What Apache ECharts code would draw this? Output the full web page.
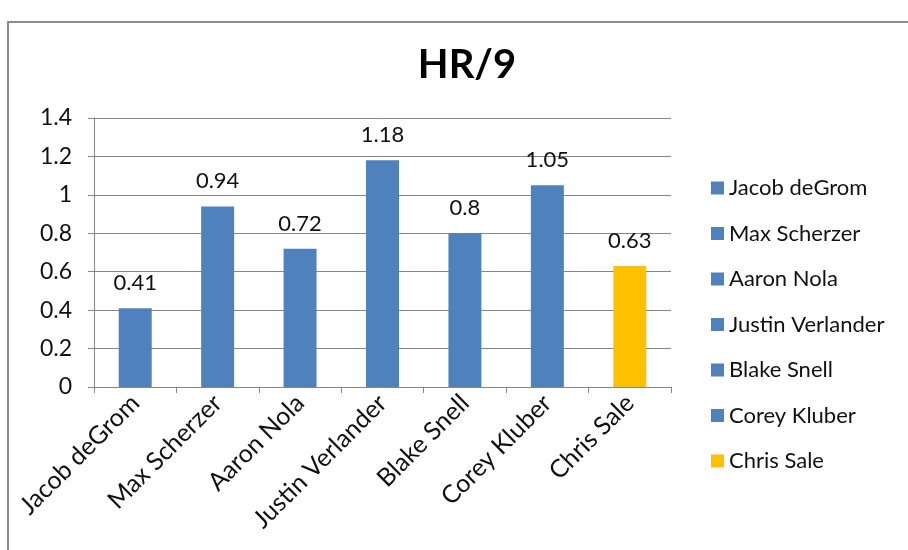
<!DOCTYPE html>
<html>
<head>
<meta charset="utf-8">
<script src="https://cdn.jsdelivr.net/npm/echarts@6/dist/echarts.min.js"></script>
<style>
  html, body { margin: 0; padding: 0; background: #fff; }
  #chart { width: 908px; height: 550px; }
</style>
</head>
<body>
<div id="chart"></div>
<script>
// Home runs allowed per nine innings, by pitcher
const pitchers = ['Jacob deGrom', 'Max Scherzer', 'Aaron Nola', 'Justin Verlander', 'Blake Snell', 'Corey Kluber', 'Chris Sale'];
const hr9 = [0.41, 0.94, 0.72, 1.18, 0.8, 1.05, 0.63];
const barColors = ['#4F81BD', '#4F81BD', '#4F81BD', '#4F81BD', '#4F81BD', '#4F81BD', '#FFC000'];
const yTicks = [0, 0.2, 0.4, 0.6, 0.8, 1, 1.2, 1.4];

const FONT = 'Lato';
const chart = echarts.init(document.getElementById('chart'), null, { renderer: 'canvas' });

// One series per pitcher so each gets its own legend entry; stacking keeps bars centred.
const series = pitchers.map((name, i) => ({
  name: name,
  type: 'bar',
  stack: 'all',
  barWidth: '40%',
  itemStyle: { color: barColors[i] },
  label: {
    show: true,
    position: 'top',
    distance: 14,
    color: '#111',
    fontFamily: FONT,
    fontSize: 22,
    formatter: p => String(p.value)
  },
  data: pitchers.map((_, j) => (j === i ? hr9[i] : '-'))
}));

chart.setOption({
  animation: false,
  backgroundColor: '#fff',
  title: {
    text: 'HR/9',
    left: 462,
    top: 40,
    textAlign: 'center',
    textStyle: { fontFamily: FONT, fontSize: 40, fontWeight: 'bold', color: '#000' }
  },
  graphic: [{
    type: 'rect',
    shape: { x: 8, y: 22, width: 1000, height: 600 },
    style: { fill: 'none', stroke: '#8c8c8c', lineWidth: 2 },
    z: -1
  }],
  legend: {
    orient: 'vertical',
    left: 706,
    top: 172,
    itemWidth: 13,
    itemHeight: 13,
    itemGap: 23.5,
    icon: 'rect',
    textStyle: { fontFamily: FONT, fontSize: 22, color: '#111', padding: [0, 0, 0, 0] },
    data: pitchers
  },
  grid: { left: 94, right: 237, top: 118, bottom: 163 },
  xAxis: {
    type: 'category',
    data: pitchers,
    axisLine: { lineStyle: { color: '#868686', width: 1 } },
    axisTick: { show: true, length: 6, lineStyle: { color: '#868686' } },
    axisLabel: {
      rotate: 45,
      interval: 0,
      margin: 12,
      fontFamily: FONT,
      fontSize: 25,
      color: '#111'
    }
  },
  yAxis: {
    type: 'value',
    min: yTicks[0],
    max: yTicks[yTicks.length - 1],
    interval: 0.2,
    axisLine: { show: true, lineStyle: { color: '#868686', width: 1 } },
    axisTick: { show: true, length: 6, lineStyle: { color: '#868686' } },
    splitLine: { show: true, lineStyle: { color: '#868686', width: 1 } },
    axisLabel: {
      margin: 22,
      fontFamily: FONT,
      fontSize: 23,
      color: '#111',
      formatter: v => String(parseFloat(v.toFixed(1)))
    }
  },
  series: series
});
</script>
</body>
</html>
